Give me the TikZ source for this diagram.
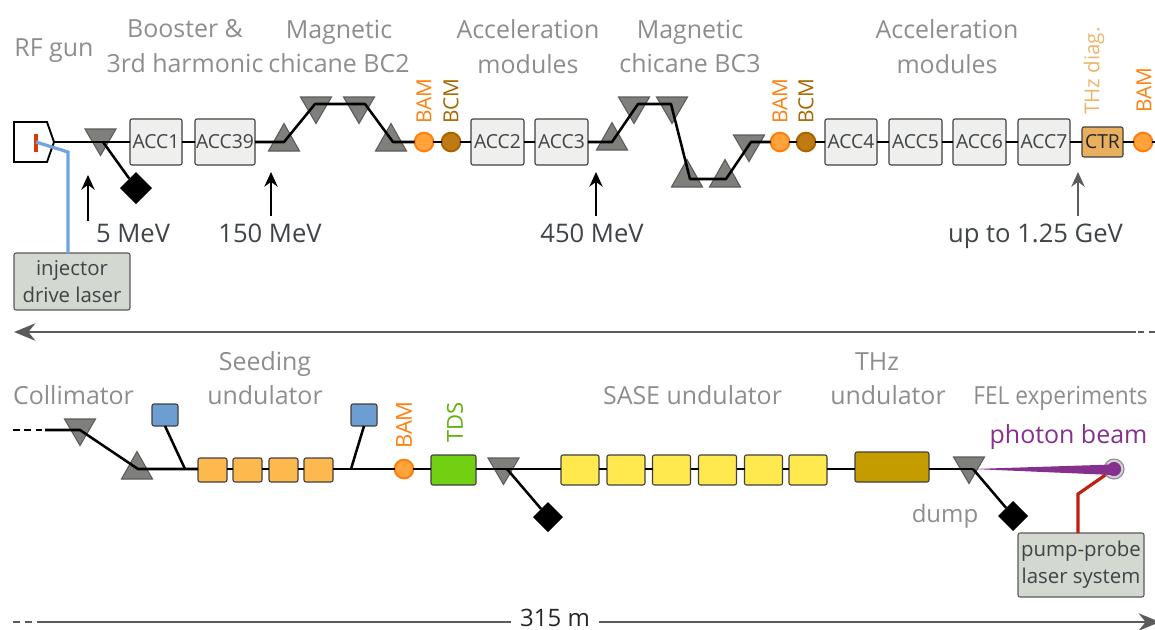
\documentclass[tikz,border=0pt]{standalone}
\usepackage{fontspec}
\setmainfont{Open Sans}
\newfontfamily\narrowlbl[FakeStretch=0.91]{Open Sans}
\usetikzlibrary{arrows.meta,shapes.geometric}
\definecolor{lblgray}{HTML}{8C8E8C}
\definecolor{txtdark}{HTML}{3F4447}
\definecolor{trifill}{HTML}{7F807C}
\definecolor{tridraw}{HTML}{5A5C5A}
\definecolor{accfill}{HTML}{EFF0EE}
\definecolor{laserfill}{HTML}{D3D8D0}
\definecolor{bamor}{HTML}{FF7F0E}
\definecolor{bamfill}{HTML}{FFA33A}
\definecolor{bcmbr}{HTML}{A86500}
\definecolor{bcmfill}{HTML}{BF7A14}
\definecolor{thzlbl}{HTML}{EBB56C}
\definecolor{ctrfill}{HTML}{E8B05E}
\definecolor{bluebox}{HTML}{6E9DD2}
\definecolor{seedor}{HTML}{FDB94D}
\definecolor{tdsgreen}{HTML}{72D012}
\definecolor{sasey}{HTML}{FFE94E}
\definecolor{thzund}{HTML}{C49C00}
\definecolor{photon}{HTML}{84308C}
\definecolor{redline}{HTML}{C0200F}
\definecolor{bluelaser}{HTML}{6FA5DC}
\definecolor{axisgray}{HTML}{595C5A}
\tikzset{
  sz/.style 2 args={minimum width=#1*0.75pt,minimum height=#2*0.75pt,inner sep=0pt,outer sep=0pt},
  big/.style={font=\fontsize{18.7}{26.2}\selectfont,text=lblgray,align=center,inner sep=0pt},
  biglbl/.style={font=\fontsize{18.7}{26.2}\selectfont,text=lblgray,anchor=base,inner sep=0pt},
  energy/.style={font=\fontsize{19.2}{26.2}\selectfont,text=txtdark,anchor=base,inner sep=0pt},
  acc/.style={draw=black!75,fill=accfill,rounded corners=1.5pt,line width=0.8pt,font=\fontsize{14.5}{16}\selectfont,text=txtdark,sz={#1}{46}},
  lasbox/.style={draw=black!65,fill=laserfill,rounded corners=1.5pt,line width=0.8pt,font=\fontsize{15.3}{20.5}\selectfont,text=txtdark,align=center,inner sep=0pt},
  und/.style={draw=black!75,rounded corners=1.5pt,line width=0.8pt,inner sep=0pt,outer sep=0pt},
  bam/.style={circle,draw=bamor,fill=bamfill,line width=1.5pt,minimum size=14pt,inner sep=0pt,outer sep=0pt},
  bcm/.style={circle,draw=bcmbr,fill=bcmfill,line width=1.5pt,minimum size=14pt,inner sep=0pt,outer sep=0pt},
  vlbl/.style={rotate=90,anchor=west,font=\fontsize{15.6}{18}\selectfont,inner sep=0pt},
  tri/.style={draw=tridraw,fill=trifill,line width=0.8pt,line join=miter},
  beam/.style={line width=1.9pt,black,line join=round},
  dia/.style={fill=black,draw=none},
  arr/.style={line width=1.5pt,black,-{Stealth[length=11pt,width=10pt]}},
  axis/.style={line width=1.9pt,axisgray},
}
\newcommand\tridown[2]{\draw[tri] (#1-15.5,#2) -- (#1+15.5,#2) -- (#1,#2+26.5) -- cycle;}
\newcommand\triup[2]{\draw[tri] (#1-15.5,#2) -- (#1+15.5,#2) -- (#1,#2-27.5) -- cycle;}
\begin{document}
\begin{tikzpicture}[x=0.75pt,y=-0.75pt]
\useasboundingbox (0,0) rectangle (1155,629);
% ---- text labels
\node[biglbl] (lrf) at (54,56) {RF gun};
\node[big] (lbo) at (185,46.5) {Booster \&\\3rd harmonic};
\node[big] (lb2) at (339,46.5) {Magnetic\\chicane BC2};
\node[big] (la1) at (528,46.5) {Acceleration\\modules};
\node[big] (lb3) at (690,46.5) {Magnetic\\chicane BC3};
\node[big] (la2) at (947,46.5) {Acceleration\\modules};
\node[biglbl] (lcol) at (73.5,404) {Collimator};
\node[biglbl] (lsd1) at (265,370) {Seeding};
\node[biglbl] (lsd2) at (265,404) {undulator};
\node[biglbl] (lsa) at (692.5,404) {SASE undulator};
\node[biglbl] (lth) at (877,370) {THz};
\node[biglbl] (lth2) at (888,404) {undulator};
\node[biglbl,font=\narrowlbl\fontsize{18.7}{20}\selectfont] (lfe) at (1060.5,404) {FEL experiments};
\node[biglbl,text=photon] (lph) at (1068.5,443) {photon beam};
\node[biglbl,font=\fontsize{18}{20}\selectfont] (ldu) at (945,522) {dump};
\node[energy] (e5) at (133,242) {5 MeV};
\node[energy] (e150) at (270,242) {150 MeV};
\node[energy] (e450) at (592,242) {450 MeV};
\node[energy] (e125) at (1035.5,242) {up to 1.25 GeV};
% ---- magnets, upper line
\tridown{100.5}{129}
\triup{284}{151}
\tridown{316}{97}
\tridown{359}{97}
\triup{391}{151}
\triup{612}{150}
\tridown{634}{97}
\tridown{672}{97}
\triup{687}{187}
\triup{725}{187}
\tridown{749}{135}
% ---- magnets, lower line
\tridown{80}{419}
\triup{137}{479}
\tridown{503.5}{458}
\tridown{969}{457}
% ---- gun
\draw[line width=1.4pt,black,fill=white] (14,122) -- (47,122) -- (54,142) -- (47,162) -- (14,162) -- cycle;
\coordinate (gunc) at (36,142);
\coordinate (gune) at (54,142);
\draw[line width=2.8pt,color=redline!70!orange] (36,134) -- (36,152);
% ---- upper modules
\node[acc=52] (acc1) at (156,142) {ACC1};
\node[acc=60] (acc39) at (225,142) {ACC39};
\node[bam] (bam1) at (424,142) {};
\node[bcm] (bcm1) at (451,142) {};
\node[acc=53] (acc2) at (497.5,142) {ACC2};
\node[acc=53] (acc3) at (561.5,142) {ACC3};
\node[bam] (bam2) at (780,142) {};
\node[bcm] (bcm2) at (806,142) {};
\node[acc=52] (acc4) at (851,142) {ACC4};
\node[acc=53] (acc5) at (915.5,142) {ACC5};
\node[acc=53] (acc6) at (979.5,142) {ACC6};
\node[acc=52] (acc7) at (1044,142) {ACC7};
\node[und,fill=ctrfill,sz={41}{30},font=\fontsize{14.5}{16}\selectfont,text=black!85] (ctr) at (1102.5,142) {CTR};
\node[bam] (bam3) at (1143,142) {};
\coordinate (rend) at (1155,142);
\node[lasbox,sz={116}{57}] (inj) at (72,281.5) {injector\\drive laser};
\node[lasbox,sz={126}{64}] (pp) at (1081,565) {pump-probe\\laser system};
% ---- rotated labels
\node[vlbl,text=bamor] (tb1) at (424,124) {BAM};
\node[vlbl,text=bcmbr] (tc1) at (451,124) {BCM};
\node[vlbl,text=bamor] (tb2) at (780,124) {BAM};
\node[vlbl,text=bcmbr] (tc2) at (806,124) {BCM};
\node[vlbl,text=thzlbl,font=\fontsize{15.4}{18}\selectfont] (tt) at (1094,115) {THz diag.};
\node[vlbl,text=bamor] (tb3) at (1144,113) {BAM};
\node[vlbl,text=bamor,font=\fontsize{16.5}{18}\selectfont] (tb4) at (404,449) {BAM};
\node[vlbl,text=tdsgreen!85!black,font=\fontsize{16.5}{18}\selectfont] (tds) at (455,443) {TDS};
% ---- upper beam
\coordinate (d1) at (103,142);
\coordinate (b1) at (284,142); \coordinate (b2) at (315,104); \coordinate (b3) at (365,104); \coordinate (b4) at (393,142);
\coordinate (c1) at (612,142); \coordinate (c2) at (638,104); \coordinate (c3) at (671,104); \coordinate (c4) at (690,179); \coordinate (c5) at (726,179); \coordinate (c6) at (751,142);
\draw[beam] (gune) -- (acc1);
\draw[beam] (acc1) -- (acc39);
\draw[beam] (acc39) -- (b1) -- (b2) -- (b3) -- (b4) -- (bam1);
\draw[beam] (bam1) -- (bcm1);
\draw[beam] (bcm1) -- (acc2);
\draw[beam] (acc2) -- (acc3);
\draw[beam] (acc3) -- (c1) -- (c2) -- (c3) -- (c4) -- (c5) -- (c6) -- (bam2);
\draw[beam] (bam2) -- (bcm2);
\draw[beam] (bcm2) -- (acc4);
\draw[beam] (acc4) -- (acc5);
\draw[beam] (acc5) -- (acc6);
\draw[beam] (acc6) -- (acc7);
\draw[beam] (acc7) -- (ctr);
\draw[beam] (ctr) -- (bam3);
\draw[beam] (bam3) -- (rend);
\node[dia,diamond,sz={32}{32}] (dmp1) at (136,188) {};
\draw[beam] (d1) -- (dmp1);
% ---- laser
\coordinate (lb) at (68,152);
\draw[line width=2.4pt,bluelaser] (gunc) -- (lb) -- (lb |- inj.north);
% ---- energy arrows
\coordinate (a5s) at (88,221); \coordinate (a5e) at (88,175);
\coordinate (a150s) at (271,216); \coordinate (a150e) at (271,172);
\coordinate (a450s) at (596,216); \coordinate (a450e) at (596,172);
\coordinate (a125s) at (1078,216); \coordinate (a125e) at (1078,172);
\draw[arr] (a5s) -- (a5e);
\draw[arr] (a150s) -- (a150e);
\draw[arr] (a450s) -- (a450e);
\draw[arr,axisgray] (a125s) -- (a125e);
% ---- middle axis
\coordinate (mr) at (1155,332); \coordinate (mm) at (1136,332); \coordinate (ml) at (14,332);
\draw[line width=1.9pt,axisgray,dash pattern=on 4.5pt off 3.7pt] (mr) -- (mm);
\draw[axis,-{Stealth[length=16pt,width=13pt]}] (mm) -- (ml);
% ---- lower modules
\node[und,fill=bluebox,sz={26}{22}] (bl1) at (165,415) {};
\node[und,fill=bluebox,sz={26}{22}] (bl2) at (364,415) {};
\node[und,fill=seedor,sz={29}{24}] (s1) at (212.5,470) {};
\node[und,fill=seedor,sz={29}{24}] (s2) at (247.5,470) {};
\node[und,fill=seedor,sz={29}{24}] (s3) at (283.5,470) {};
\node[und,fill=seedor,sz={29}{24}] (s4) at (318.5,470) {};
\node[bam] (bam4) at (404,469) {};
\node[und,fill=tdsgreen,sz={45}{30}] (tdsb) at (453.5,470) {};
\node[und,fill=sasey,sz={38}{30}] (y1) at (580,470) {};
\node[und,fill=sasey,sz={38}{30}] (y2) at (626,470) {};
\node[und,fill=sasey,sz={38}{30}] (y3) at (671.5,470) {};
\node[und,fill=sasey,sz={38}{30}] (y4) at (717.5,470) {};
\node[und,fill=sasey,sz={38}{30}] (y5) at (763.5,470) {};
\node[und,fill=sasey,sz={38}{30}] (y6) at (808,470) {};
\node[und,fill=thzund,sz={74}{30}] (thz) at (892,467) {};
% ---- lower beam
\coordinate (ds) at (13,430); \coordinate (dm) at (45,430); \coordinate (k1) at (80,430); \coordinate (k2) at (138,469);
\coordinate (j1) at (185,469); \coordinate (j2) at (351,469);
\coordinate (d2) at (507,469); \coordinate (d3) at (973,469);
\draw[line width=1.9pt,black,dash pattern=on 5pt off 3.5pt] (ds) -- (dm);
\draw[beam] (dm) -- (k1) -- (k2) -- (k2 -| s1.west);
\draw[beam] (bl1.south) -- (j1);
\draw[beam] (bl2.south) -- (j2);
\draw[beam] (s4.east |- j2) -- (bam4);
\draw[beam] (s1.east |- j1) -- (s2.west |- j1);
\draw[beam] (s2.east |- j1) -- (s3.west |- j1);
\draw[beam] (s3.east |- j1) -- (s4.west |- j1);
\draw[beam] (bam4) -- (tdsb.west |- bam4);
\draw[beam] (tdsb.east |- d2) -- (y1.west |- d2);
\draw[beam] (y1.east |- d2) -- (y2.west |- d2);
\draw[beam] (y2.east |- d2) -- (y3.west |- d2);
\draw[beam] (y3.east |- d2) -- (y4.west |- d2);
\draw[beam] (y4.east |- d2) -- (y5.west |- d2);
\draw[beam] (y5.east |- d2) -- (y6.west |- d2);
\draw[beam] (y6.east |- d2) -- (thz.west |- d2);
\draw[beam] (thz.east |- d3) -- (d3);
\node[dia,diamond,sz={30}{30}] (dmp2) at (548,517) {};
\node[dia,diamond,sz={30}{30}] (dmp3) at (1013,516) {};
\draw[beam] (d2) -- (dmp2);
\draw[beam] (d3) -- (dmp3);
% ---- photon beam
\node[circle,draw=black!45,fill=black!18,line width=0.8pt,minimum size=15pt,inner sep=0pt] (tgt) at (1114,469) {};
\fill[photon] (d3) -- (1113,464.5) -- (1113,475) -- cycle;
\fill[photon] (tgt.center) circle (5.3pt);
\coordinate (rk) at (1078,494);
\draw[line width=2.4pt,redline] (tgt) -- (rk) -- (rk |- pp.north);
% ---- bottom axis
\node[font=\fontsize{18}{20}\selectfont,text=black!85,inner ysep=0pt,inner xsep=7pt] (len) at (555,618) {315 m};
\coordinate (bl) at (13,622); \coordinate (bm) at (42,622); \coordinate (br) at (1160,622);
\draw[line width=1.9pt,axisgray,dash pattern=on 5pt off 4pt] (bl) -- (bm);
\draw[axis] (bm) -- (len.west |- bm);
\draw[axis,-{Stealth[length=16pt,width=13pt]}] (len.east |- br) -- (br);
\end{tikzpicture}
\end{document}
